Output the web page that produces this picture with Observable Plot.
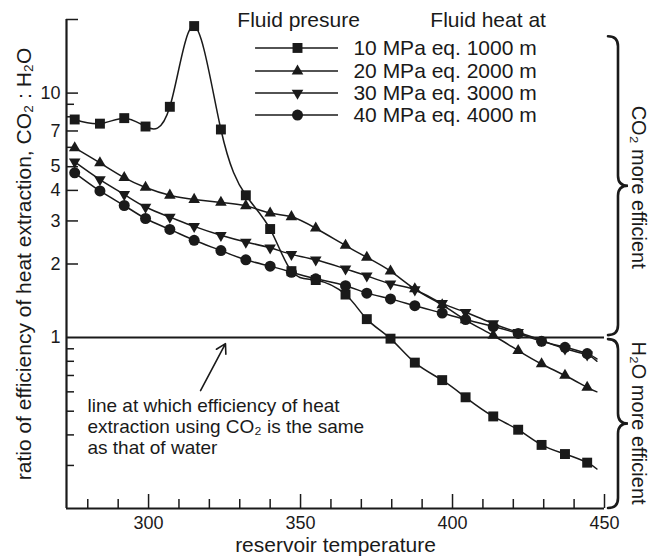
<!DOCTYPE html>
<html><head><meta charset="utf-8">
<script src="https://cdn.jsdelivr.net/npm/d3@7"></script>
<script src="https://cdn.jsdelivr.net/npm/@observablehq/plot@0.6"></script>
<style>
body{margin:0;background:#fff;}
#chart svg{display:block;}
</style></head><body><div id="chart"></div>
<script>
// ---- data ----
const temps = [275.7, 284, 292, 299, 307, 315, 323.8, 332, 340, 347, 355, 364.8, 371.8, 379.6, 387.6, 396.6, 404.3, 413.4, 421.6, 429.3, 437, 444.3];
const mpa10 = [7.8, 7.5, 7.9, 7.3, 8.79, 18.8, 7.1, 3.82, 2.78, 1.87, 1.72, 1.5, 1.19, 0.99, 0.79, 0.67, 0.57, 0.476, 0.42, 0.364, 0.334, 0.308];
const mpa20 = [5.97, 5.18, 4.51, 4.11, 3.82, 3.67, 3.57, 3.46, 3.23, 3.12, 2.8, 2.38, 2.13, 1.87, 1.58, 1.36, 1.18, 1.02, 0.885, 0.78, 0.70, 0.626];
const mpa30 = [5.23, 4.43, 3.85, 3.42, 3.11, 2.85, 2.62, 2.46, 2.33, 2.19, 2.08, 1.91, 1.79, 1.66, 1.57, 1.38, 1.27, 1.14, 1.05, 0.975, 0.90, 0.85];
const mpa40 = [4.72, 3.98, 3.47, 3.07, 2.77, 2.5, 2.27, 2.08, 1.96, 1.85, 1.74, 1.63, 1.52, 1.44, 1.35, 1.26, 1.185, 1.11, 1.04, 0.966, 0.913, 0.86];
const lineEndTemp = 447.5;
const lineEndValues = [0.29, 0.60, 0.80, 0.818];
const seriesLabels = ["10 MPa eq. 1000 m", "20 MPa eq. 2000 m", "30 MPa eq. 3000 m", "40 MPa eq. 4000 m"];
const seriesValues = [mpa10, mpa20, mpa30, mpa40];
const seriesSymbols = ["square", "triangle", "triangle", "circle"];
const seriesRotate = [0, 0, 180, 0];
const seriesR = [5.6, 4.3, 4.3, 5.5];

const xMajorTicks = [300, 350, 400, 450];
const xMinorTicks = [280, 290, 310, 320, 330, 340, 360, 370, 380, 390, 410, 420, 430, 440];
const yLabelTicks = [1, 2, 3, 4, 5, 7, 10];
const yMajorTicks = [2, 3, 4, 5, 7, 10, 20];
const yMinorTicks = [0.3, 0.4, 0.5, 0.6, 0.7, 0.8, 0.9, 6, 8, 9];

const xTitle = "reservoir temperature";
const yTitle = "ratio of efficiency of heat extraction, CO\u2082 : H\u2082O";
const legendHeaders = ["Fluid presure", "Fluid heat at"];
const annotationText = "line at which efficiency of heat\nextraction using CO\u2082 is the same\nas that of water";
const braceLabels = ["CO\u2082 more efficient", "H\u2082O more efficient"];

// ---- layout (data-space anchors for annotations/legend) ----
const legendLayout = {x1: 335.2, x2: 362.5, xm: 349, xt: 367.4, rows: [15.3, 12.3, 10.0, 8.13], headerX: [329.2, 392.7], headerY: 18.6};
const arrowLayout = [{x1: 317.1, y1: 0.607, x2: 325.3, y2: 0.945}];
const annotationLayout = {x: 279.9, y: 0.569};

const FONT = "'Liberation Sans', Arial, Helvetica, sans-serif";
const INK = "#1a1a1a";

// ---- build tidy rows ----
const pointRows = [];
const lineRows = [];
seriesLabels.forEach((s, k) => {
  temps.forEach((t, i) => {
    pointRows.push({series: s, k, temp: t, value: seriesValues[k][i]});
    lineRows.push({series: s, k, temp: t, value: seriesValues[k][i]});
  });
  lineRows.push({series: s, k, temp: lineEndTemp, value: lineEndValues[k]});
});
const legendRows = seriesLabels.map((s, k) => ({series: s, k, y: legendLayout.rows[k]}));

const dotMarks = seriesLabels.map((s, k) => Plot.dot(pointRows.filter(d => d.k === k), {
  x: "temp", y: "value", symbol: seriesSymbols[k], rotate: seriesRotate[k], r: seriesR[k], fill: INK, stroke: "none"
}));
const legendDots = seriesLabels.map((s, k) => Plot.dot([legendRows[k]], {
  x: () => legendLayout.xm, y: "y", symbol: seriesSymbols[k], rotate: seriesRotate[k], r: seriesR[k], fill: INK, stroke: "none"
}));

const plot = Plot.plot({
  width: 655,
  height: 556,
  marginLeft: 66,
  marginRight: 51,
  marginTop: 19,
  marginBottom: 48,
  style: {fontFamily: FONT, color: INK, background: "#fff"},
  x: {domain: [273, 450], label: null},
  y: {type: "log", domain: [0.2, 20], label: null},
  marks: [
    // axis lines
    Plot.ruleX([273], {stroke: INK, strokeWidth: 2.2}),
    Plot.ruleY([0.2], {stroke: INK, strokeWidth: 2.2}),
    Plot.ruleY([1], {stroke: INK, strokeWidth: 2}),
    // inward ticks
    Plot.axisX(xMinorTicks, {tickSize: -9, tickFormat: () => "", label: null, strokeWidth: 1.5}),
    Plot.axisX(xMajorTicks, {tickSize: -14, tickFormat: () => "", label: null, strokeWidth: 1.5}),
    Plot.axisY(yMinorTicks, {tickSize: -8, tickFormat: () => "", label: null, strokeWidth: 1.5}),
    Plot.axisY(yMajorTicks, {tickSize: -12, tickFormat: () => "", label: null, strokeWidth: 1.5}),
    // tick labels
    Plot.axisX(xMajorTicks, {tickSize: 0, tickPadding: 8, fontSize: 18, label: null, tickFormat: d => String(d)}),
    Plot.axisY(yLabelTicks, {tickSize: 0, tickPadding: 6, fontSize: 18, label: null, tickFormat: d => String(d)}),
    // axis titles
    Plot.text([xTitle], {text: d => d, frameAnchor: "bottom", dy: 37, textAnchor: "middle", lineAnchor: "middle", fontSize: 21, fill: INK}),
    Plot.text([yTitle], {text: d => d, frameAnchor: "left", dx: -42, rotate: -90, textAnchor: "middle", lineAnchor: "middle", fontSize: 21, fill: INK}),
    // series
    Plot.line(lineRows, {x: "temp", y: "value", z: "series", curve: "natural", stroke: INK, strokeWidth: 1.5}),
    ...dotMarks,
    // legend
    Plot.text([legendHeaders[0]], {x: () => legendLayout.headerX[0], y: () => legendLayout.headerY, text: d => d, textAnchor: "start", lineAnchor: "bottom", fontSize: 21, fill: INK}),
    Plot.text([legendHeaders[1]], {x: () => legendLayout.headerX[1], y: () => legendLayout.headerY, text: d => d, textAnchor: "start", lineAnchor: "bottom", fontSize: 21, fill: INK}),
    Plot.ruleY(legendRows, {y: "y", x1: () => legendLayout.x1, x2: () => legendLayout.x2, stroke: INK, strokeWidth: 1.5}),
    ...legendDots,
    Plot.text(legendRows, {x: () => legendLayout.xt, y: "y", text: "series", textAnchor: "start", lineAnchor: "middle", fontSize: 21, fill: INK}),
    // annotation
    Plot.arrow(arrowLayout, {x1: "x1", y1: "y1", x2: "x2", y2: "y2", stroke: INK, strokeWidth: 1.6, headLength: 10}),
    Plot.text([annotationText], {x: () => annotationLayout.x, y: () => annotationLayout.y, text: d => d, textAnchor: "start", lineAnchor: "top", lineHeight: 1.105, fontSize: 19, fill: INK}),
    // brace labels
    Plot.text([braceLabels[0]], {y: () => Math.sqrt(17 * 1), frameAnchor: "right", dx: 34, rotate: 90, text: d => d, textAnchor: "middle", lineAnchor: "middle", fontSize: 20, fill: INK}),
    Plot.text([braceLabels[1]], {y: () => Math.sqrt(1 * 0.2), frameAnchor: "right", dx: 34, rotate: 90, text: d => d, textAnchor: "middle", lineAnchor: "middle", fontSize: 20, fill: INK})
  ]
});

// curly braces on the right, positioned through the y scale
const ys = plot.scale("y");
function bracePath(x0, x1, xt, yTop, yBot) {
  const ym = (yTop + yBot) / 2;
  const q = 10;
  return `M${x0},${yTop} Q${x1},${yTop} ${x1},${yTop + q} L${x1},${ym - q} Q${x1},${ym} ${xt},${ym} Q${x1},${ym} ${x1},${ym + q} L${x1},${yBot - q} Q${x1},${yBot} ${x0},${yBot}`;
}
const gB = d3.select(plot).append("g").attr("fill", "none").attr("stroke", INK).attr("stroke-width", 2.6).attr("stroke-linecap", "round");
gB.append("path").attr("d", bracePath(608, 618, 628, ys.apply(17), ys.apply(1) - 2));
gB.append("path").attr("d", bracePath(608, 618, 628, ys.apply(1) + 2, ys.apply(0.2)));

document.getElementById("chart").append(plot);
</script></body></html>
